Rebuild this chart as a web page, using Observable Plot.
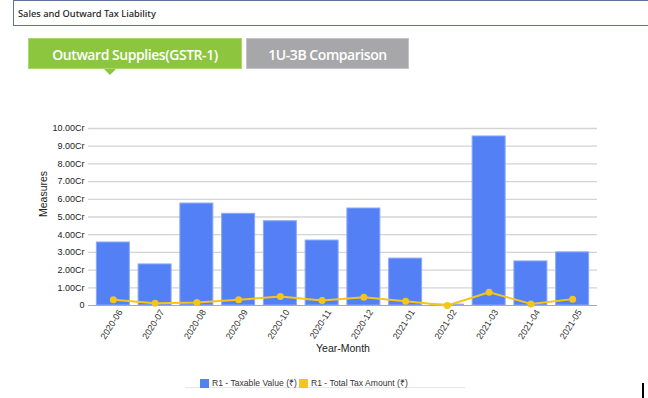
<!DOCTYPE html>
<html><head><meta charset="utf-8">
<script src="https://cdn.jsdelivr.net/npm/d3@7"></script>
<script src="https://cdn.jsdelivr.net/npm/@observablehq/plot@0.6"></script>
<style>
body{margin:0;width:648px;height:398px;position:relative;background:#fff;overflow:hidden;font-family:"Liberation Sans",Arial,sans-serif;}
#hdr{position:absolute;left:13px;top:0;width:640px;height:26px;border:1px solid #5d7199;border-right:none;box-sizing:border-box;}
#hdr span{position:absolute;left:4px;top:6px;font-family:"Noto Sans",sans-serif;font-size:9.3px;color:#222;font-weight:500}
.tab{position:absolute;top:38px;height:31px;color:#fff;font-family:"Open Sans",sans-serif;font-weight:600;font-size:14px;line-height:31px;text-align:center;box-sizing:border-box;letter-spacing:-0.45px}
#t1{left:28px;width:214px;background:#8cc63f;border:1px solid #a9d86e}
#t2{left:246px;width:163px;background:#a7a7aa;border:1px solid #c4c4c6}
#tri{position:absolute;left:104px;top:69px;width:0;height:0;border-left:6px solid transparent;border-right:6px solid transparent;border-top:6px solid #8cc63f}
#chart{position:absolute;left:0;top:110px}
#legend{position:absolute;top:377px;left:200px;font-size:8.6px;color:#333;display:flex;align-items:center;white-space:nowrap}
#legend i{display:inline-block;width:9px;height:9px;margin-right:3px}
#hl{position:absolute;left:185px;width:280px;top:387px;height:1px;background:#e6e6e6}
#mark{position:absolute;left:642px;top:383px;width:2px;height:15px;background:#000}
</style></head>
<body>
<div id="hdr"><span>Sales and Outward Tax Liability</span></div>
<div class="tab" id="t1">Outward Supplies(GSTR-1)</div>
<div class="tab" id="t2">1U-3B Comparison</div>
<div id="tri"></div>
<div id="chart"></div>
<div id="hl"></div>
<div id="legend"><i style="background:#5380f5"></i><span>R1 - Taxable Value (₹)</span><i style="background:#f5c518;margin-left:2px"></i><span>R1 - Total Tax Amount (₹)</span></div>
<div id="mark"></div>
<script>
const months = ["2020-06","2020-07","2020-08","2020-09","2020-10","2020-11","2020-12","2021-01","2021-02","2021-03","2021-04","2021-05"];
const taxableValue = [3.56,2.32,5.76,5.18,4.76,3.67,5.48,2.65,0.05,9.55,2.49,3.00];
const totalTax = [0.33,0.13,0.17,0.32,0.51,0.28,0.47,0.24,0.00,0.75,0.09,0.36];
const yTicks = [0,1,2,3,4,5,6,7,8,9,10];

const data = months.map((m,i)=>({month:m, value:taxableValue[i], tax:totalTax[i]}));

const chart = Plot.plot({
  width: 648, height: 255,
  marginLeft: 88, marginRight: 51, marginTop: 18, marginBottom: 60,
  style: {fontFamily: "Liberation Sans, Arial, sans-serif", fontSize: "9px", color: "#333"},
  x: {domain: months, paddingInner: 0.21, paddingOuter: 0.2, round: false, label: null},
  y: {domain: [0,10], label: null},
  marks: [
    Plot.ruleY(yTicks.filter(d=>d>0), {stroke: "#d4d4d4", strokeWidth: 1.3}),
    Plot.axisY({ticks: yTicks, tickSize: 0, tickPadding: 4, tickFormat: d => d === 0 ? "0" : d.toFixed(2) + "Cr", fill: "#222", fontSize: 9}),
    Plot.text(["Measures"], {frameAnchor: "left", dx: -45, rotate: -90, fontSize: 10.5, fill: "#222"}),
    Plot.axisX({tickSize: 0, tickPadding: 5, tickRotate: -58, dx: 7, fontSize: 9, fill: "#333", label: null}),
    Plot.text(["Year-Month"], {frameAnchor: "bottom", dy: 46, fontSize: 10.5, fill: "#222"}),
    Plot.barY(data, {x: "month", y: "value", fill: "#5380f5", stroke: "#8aa8f8", strokeWidth: 1}),
    Plot.ruleY([0], {stroke: "#a8a8a8", strokeWidth: 1.2}),
    Plot.line(data, {x: "month", y: "tax", stroke: "#f5c518", strokeWidth: 2}),
    Plot.dot(data, {x: "month", y: "tax", fill: "#f5c518", r: 3.5})
  ]
});
document.getElementById("chart").appendChild(chart);
</script>
</body></html>
